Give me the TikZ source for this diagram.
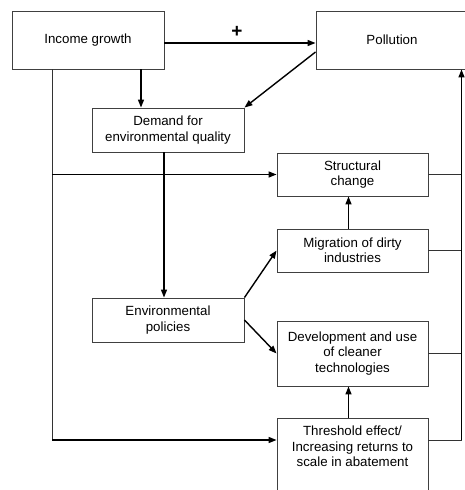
\documentclass[tikz,border=0pt]{standalone}
\usepackage{fontspec}
\setmainfont{Liberation Sans}
\usetikzlibrary{arrows.meta}
\begin{document}
\begin{tikzpicture}[x=1pt,y=-1pt,
  box/.style={draw=black!75, line width=0.9pt, rectangle, align=center, inner sep=0pt,
    font=\fontsize{13.3}{15.3}\selectfont},
  label/.style={inner sep=0pt, align=center, font=\fontsize{13.3}{15.3}\selectfont},
  link/.style={draw=black!80, line width=1pt},
  arr/.style={draw=black, line width=1.4pt, -{Triangle[length=8pt,width=6pt]}},
]
\useasboundingbox (0,0) rectangle (465,490);
\clip (0,0) rectangle (465,490);

% boxes
\node[box, minimum width=152, minimum height=58] (income) at (88,40) {Income growth};
\node[box, minimum width=152, minimum height=58] (pollution) at (392,40) {Pollution};
\node[box, minimum width=152, minimum height=44] (demand) at (168,130) {Demand for\\environmental quality};
\node[box, minimum width=151, minimum height=43] (struct) at (352.5,174.5) {Structural\\change};
\node[box, minimum width=151, minimum height=43] (migr) at (352.5,250.5) {Migration of dirty\\industries};
\node[box, minimum width=152, minimum height=44] (policy) at (168,320) {Environmental\\policies};
\node[box, minimum width=151, minimum height=65] (clean) at (352.5,353.5) {Development and use\\of cleaner\\technologies};
\node[box, minimum width=151, minimum height=82] (thr) at (352.5,459) {};
\node[label, anchor=north] (thrtext) at (352.5,426) {Threshold effect/\\Increasing returns to\\scale in abatement};

% helper coordinates
\coordinate (lft) at (52,0);
\coordinate (bus) at (461.5,0);
\coordinate (tw) at ([yshift=19pt]thr.west);
\coordinate (te) at ([yshift=19pt]thr.east);
\coordinate (dn) at ([xshift=-27pt]demand.north);
\coordinate (ds) at ([xshift=-4pt]demand.south);

% income to pollution
\draw[arr] ([yshift=-3pt]income.east) -- ([yshift=-3pt]pollution.west);
\node[inner sep=0pt, font=\fontsize{19}{19}\selectfont\bfseries] (plus) at (237,32) {+};

% into demand
\draw[arr] (income.south -| dn) -- (dn);
\draw[arr] ([yshift=-12pt]pollution.west) -- (demand.north east);

% demand to policies
\draw[arr] (ds) -- (ds |- policy.north);

% left line from income
\draw[link] (income.south -| lft) -- (tw -| lft);
\draw[arr] (tw -| lft) -- (tw);
\draw[arr] (struct.west -| lft) -- (struct.west);

% policies
\draw[arr] (policy.north east) -- (migr.west);
\draw[arr] (policy.east) -- (clean.west);

% vertical links between right boxes
\draw[arr] ([xshift=-4pt]migr.north) -- ([xshift=-4pt]struct.south);
\draw[arr] ([xshift=-4pt]thr.north) -- ([xshift=-4pt]clean.south);

% feedback bus to pollution
\draw[link] (struct.east) -- (struct.east -| bus);
\draw[link] (migr.east) -- (migr.east -| bus);
\draw[link] (clean.east) -- (clean.east -| bus);
\draw[link] (te) -- (te -| bus);
\draw[arr] (te -| bus) -- (pollution.south -| bus);
\end{tikzpicture}
\end{document}
